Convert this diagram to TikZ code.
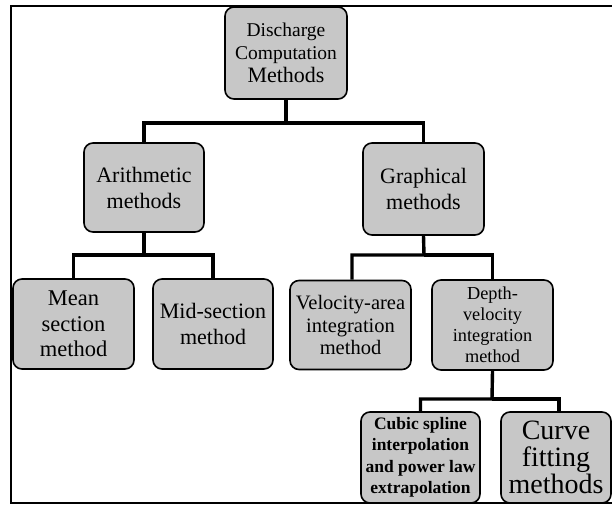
\documentclass[tikz,border=0pt]{standalone}
\usepackage{fontspec}
\setmainfont{Liberation Serif}
\newcommand{\fsz}[2]{\fontsize{#1}{#2}\selectfont}
\tikzset{
  box/.style={draw, line width=1.6pt, rounded corners=9pt, fill=black!22,
    align=center, inner sep=1pt},
  conn/.style={line width=3.4pt},
  frame/.style={line width=1.4pt}
}

\begin{document}
\begin{tikzpicture}[x=1pt, y=-1pt]
\useasboundingbox (0,0) rectangle (612,505);
\draw[frame] (612,6) -- (11,6) -- (11,503) -- (612,503);

\node[box, minimum width=122pt, minimum height=92pt, font=\fsz{19.5}{23}] (root) at (286,53)
  {Discharge\\Computation\\\fsz{22}{24}Methods};

\node[box, minimum width=120pt, minimum height=89pt, font=\fsz{22}{26}] (arith) at (144,187.5)
  {Arithmetic\\methods};
\node[box, minimum width=121pt, minimum height=92pt, font=\fsz{22}{26}] (graph) at (423.5,189)
  {Graphical\\methods};

\node[box, minimum width=121pt, minimum height=90pt, font=\fsz{22.5}{25.5}] (mean) at (73.5,324)
  {Mean\\section\\method};
\node[box, minimum width=120pt, minimum height=90pt, font=\fsz{22}{25.5}] (mid) at (213,324)
  {Mid-section\\method};
\node[box, minimum width=121pt, minimum height=89pt, font=\fsz{20.5}{22.5}] (vel) at (350.5,325)
  {Velocity-area\\integration\\method};
\node[box, minimum width=121pt, minimum height=90pt, font=\fsz{18.3}{21}] (depth) at (492.5,325)
  {Depth-\\velocity\\integration\\method};

\node[box, minimum width=119pt, minimum height=91pt, font=\fsz{17.5}{21.5}\bfseries] (cubic) at (420.5,457.5)
  {Cubic spline\\interpolation\\and power law\\extrapolation};
\node[box, minimum width=110pt, minimum height=91pt, font=\fsz{28}{27}] (curve) at (556,457.5)
  {Curve\\fitting\\methods};

% connectors
\coordinate (b0) at (286,123);
\coordinate (b1) at (144,255);
\coordinate (b2) at (424,255);
\coordinate (b3) at (492,399);
\draw[conn] (root.south) -- (b0) -| (arith.north);
\draw[conn] (b0) -| (graph.north);
\draw[conn] (arith.south) -- (b1) -| (mean.north);
\draw[conn] (b1) -| (mid.north);
\draw[conn] (graph.south) -- (b2) -| ([xshift=1.5pt]vel.north);
\draw[conn] (b2) -| (depth.north);
\draw[conn] (depth.south) -- (b3) -| (cubic.north);
\draw[conn] (b3) -| ([xshift=3pt]curve.north);
\end{tikzpicture}
\end{document}
